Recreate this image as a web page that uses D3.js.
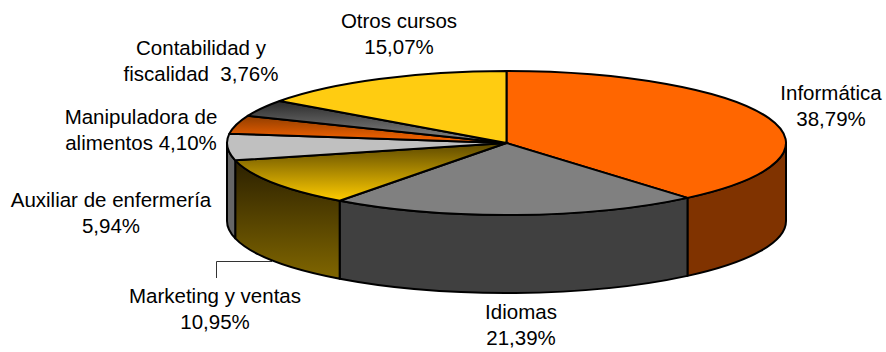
<!DOCTYPE html>
<html>
<head>
<meta charset="utf-8">
<script src="https://cdn.jsdelivr.net/npm/d3@7"></script>
<style>
body { margin: 0; background: #fff; }
text { font-family: "Liberation Sans", Arial, sans-serif; font-size: 20.5px; fill: #000; }
</style>
</head>
<body>
<div id="chart-area"></div>
<script>
var categories = ["Informática", "Idiomas", "Marketing y ventas", "Auxiliar de enfermería",
    "Manipuladora de alimentos", "Contabilidad y fiscalidad", "Otros cursos"];
var values = [38.79, 21.39, 10.95, 5.94, 4.10, 3.76, 15.07];
var labelLines = [
    ["Informática", "38,79%"],
    ["Idiomas", "21,39%"],
    ["Marketing y ventas", "10,95%"],
    ["Auxiliar de enfermería", "5,94%"],
    ["Manipuladora de", "alimentos 4,10%"],
    ["Contabilidad y", "fiscalidad  3,76%"],
    ["Otros cursos", "15,07%"]
];

// label anchors, first baseline
var labelX = [831, 521, 215, 111, 141, 201, 399];
var labelY = [100, 319, 303, 207, 124, 55, 28];

// top face fill and side fill, [from, to] is a vertical gradient
var topColors = ["#ff6600", "#808080", ["#5c4800", "#ffcc00"], "#c0c0c0", ["#8f3d00", "#ff6600"], ["#2a2a2a", "#8a8a8a"], "#ffcc11"];
var sideColors = ["#803300", "#404040", ["#2b2000", "#806600"], "#666666", "#803300", "#404040", "#806600"];

var width = 886, height = 352;
var cx = 506.5, cy = 143, rx = 279.5, ry = 72, depth = 78;

var svg = d3.select("#chart-area")
    .append("svg")
        .attr("width", width)
        .attr("height", height);

var defs = svg.append("defs");

function addGradient(id, stops) {
    var grad = defs.append("linearGradient")
        .attr("id", id)
        .attr("x1", 0).attr("y1", 0)
        .attr("x2", 0).attr("y2", 1);
    grad.append("stop").attr("offset", "0%").attr("stop-color", stops[0]);
    grad.append("stop").attr("offset", "100%").attr("stop-color", stops[1]);
    return "url(#" + id + ")";
}

function fillOf(color, id) {
    return Array.isArray(color) ? addGradient(id, color) : color;
}

var slices = d3.pie().sort(null)(values);

function px(a) { return cx + rx * Math.sin(a); }
function py(a) { return cy - ry * Math.cos(a); }

function topPath(d) {
    var large = d.endAngle - d.startAngle > Math.PI ? 1 : 0;
    return "M" + cx + "," + cy +
        "L" + px(d.startAngle) + "," + py(d.startAngle) +
        "A" + rx + "," + ry + " 0 " + large + " 1 " + px(d.endAngle) + "," + py(d.endAngle) + "Z";
}

// side wall, only the part of the rim that faces the viewer
function sidePath(d) {
    var a0 = Math.max(d.startAngle, Math.PI / 2),
        a1 = Math.min(d.endAngle, 3 * Math.PI / 2);
    if (a1 <= a0) return null;
    return "M" + px(a0) + "," + py(a0) +
        "A" + rx + "," + ry + " 0 0 1 " + px(a1) + "," + py(a1) +
        "L" + px(a1) + "," + (py(a1) + depth) +
        "A" + rx + "," + ry + " 0 0 0 " + px(a0) + "," + (py(a0) + depth) + "Z";
}

// leader line for Marketing y ventas
svg.append("path")
    .attr("d", "M216.5,278V261.5H272")
    .attr("fill", "none")
    .attr("stroke", "#333")
    .attr("stroke-width", 1);

svg.selectAll("path.side")
    .data(slices.filter(d => sidePath(d)))
    .enter().append("path")
        .attr("class", "side")
        .attr("d", sidePath)
        .attr("fill", d => fillOf(sideColors[d.index], "side" + d.index))
        .attr("stroke", "#000")
        .attr("stroke-width", 2)
        .attr("stroke-linejoin", "round");

svg.selectAll("path.top")
    .data(slices)
    .enter().append("path")
        .attr("class", "top")
        .attr("d", topPath)
        .attr("fill", d => fillOf(topColors[d.index], "top" + d.index))
        .attr("stroke", "#000")
        .attr("stroke-width", 2)
        .attr("stroke-linejoin", "round");

var labels = svg.selectAll("text.label")
    .data(labelLines)
    .enter().append("text")
        .attr("class", "label")
        .attr("text-anchor", "middle")
        .attr("xml:space", "preserve");

labels.selectAll("tspan")
    .data((d, i) => d.map((line, j) => ({line: line, x: labelX[i], y: labelY[i] + j * 26})))
    .enter().append("tspan")
        .attr("x", d => d.x)
        .attr("y", d => d.y)
        .text(d => d.line);
</script>
</body>
</html>
